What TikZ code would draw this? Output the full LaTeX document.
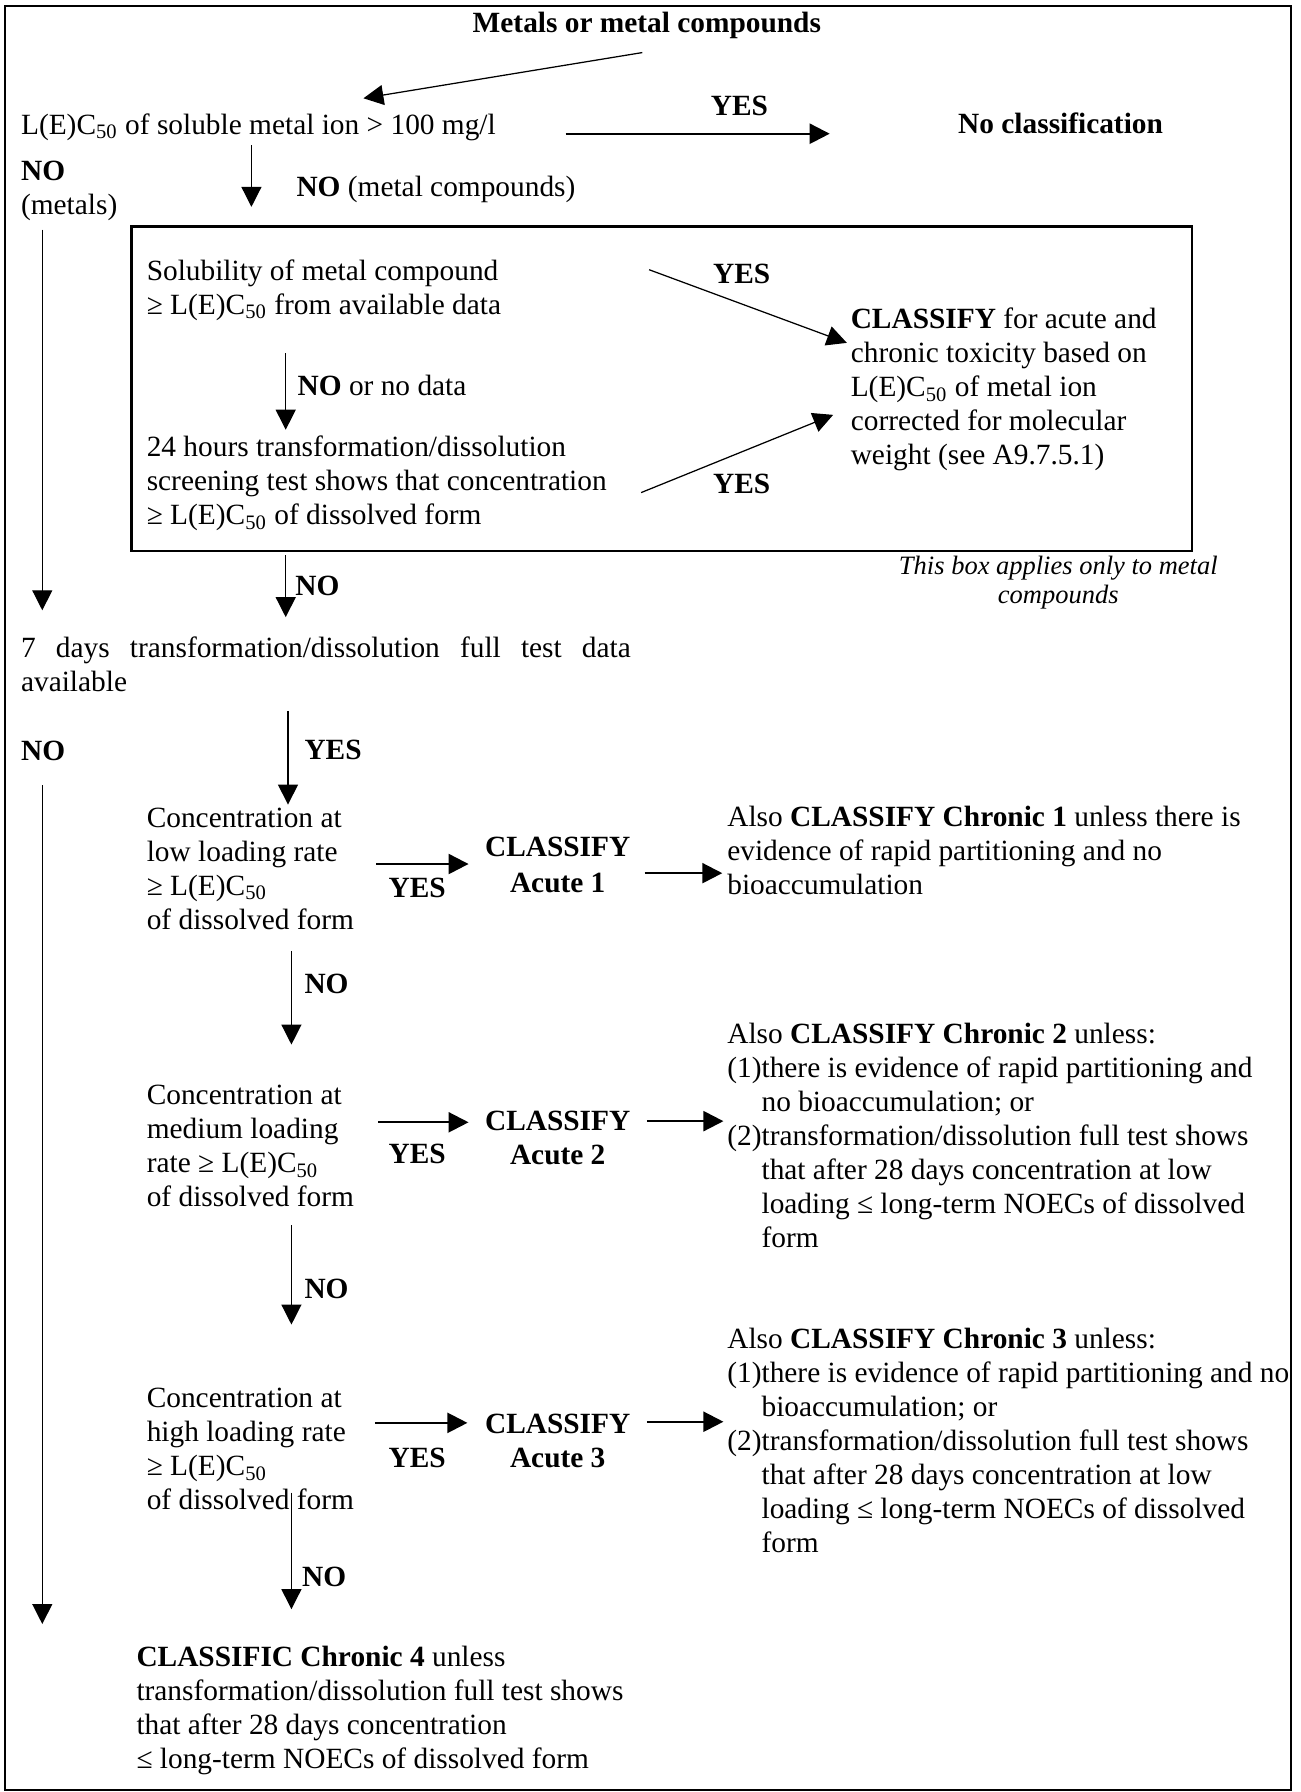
\documentclass[tikz,border=0pt]{standalone}
\usepackage{fontspec}
\setmainfont{Liberation Serif}
\usetikzlibrary{arrows.meta}
\renewcommand\normalsize{\fontsize{11.75}{13.6}\selectfont}

\begin{document}
\begin{tikzpicture}[x=0.4573pt,y=-0.4573pt,
  txt/.style={inner sep=0pt,align=left,anchor=west},
  lab/.style={inner sep=0pt,font=\bfseries},
  arr/.style={-{Triangle[length=8pt,width=8pt]},line width=0.5pt},
  harr/.style={arr,line width=0.9pt}]
\useasboundingbox (0,0) rectangle (1138,1568);
\draw[line width=0.8pt] (4,5) rectangle (1130,1566);
\draw[line width=1pt] (115,198) rectangle (1043,482);

\node[lab] (top) at (566,22) {Metals or metal compounds};
\node[txt] (lec) at (18,111) {L(E)C\textsubscript{50} of soluble metal ion > 100 mg/l};
\node[lab] (nocl) at (928,108) {No classification};
\node[lab] (y1) at (647,93) {YES};
\node[txt] (n1) at (259,166) {\textbf{NO} (metal compounds)};
\node[txt] (n2) at (18,167) {\textbf{NO}\\(metals)};

\node[txt] (sol) at (128,254) {Solubility of metal compound\\≥ L(E)C\textsubscript{50} from available data};
\node[lab] (y2) at (649,240) {YES};
\node[txt] (cls) at (744,341) {\textbf{CLASSIFY} for acute and\\chronic toxicity based on\\L(E)C\textsubscript{50} of metal ion\\corrected for molecular\\weight (see A9.7.5.1)};
\node[txt] (n3) at (260,337) {\textbf{NO} or no data};
\node[txt] (scr) at (128,423) {24 hours transformation/dissolution\\screening test shows that concentration\\≥ L(E)C\textsubscript{50} of dissolved form};
\node[lab] (y3) at (649,423) {YES};
\node[inner sep=0pt,align=center,font=\fontsize{10.6}{11.4}\selectfont\itshape] (note) at (926,510) {This box applies only to metal\\compounds};
\node[txt,font=\bfseries] (n4) at (258,513) {NO};

\node[txt,text width=244pt,align=justify] (seven) at (18,581) {7 days transformation/dissolution full test data\linebreak available};
\node[txt,font=\bfseries] (n5) at (18,657) {NO};
\node[txt,font=\bfseries] (y4) at (266,656) {YES};

\node[txt] (c1) at (128,760) {Concentration at\\low loading rate\\≥ L(E)C\textsubscript{50}\\of dissolved form};
\node[lab] (y5) at (365,777) {YES};
\node[lab,align=center] (ac1) at (488,757) {CLASSIFY\\[1pt]Acute 1};
\node[txt] (ch1) at (636,744) {Also \textbf{CLASSIFY Chronic 1} unless there is\\evidence of rapid partitioning and no\\bioaccumulation};
\node[txt,font=\bfseries] (n6) at (266,861) {NO};

\node[txt] (c2) at (128,1003) {Concentration at\\medium loading\\rate ≥ L(E)C\textsubscript{50}\\of dissolved form};
\node[lab] (y6) at (365,1010) {YES};
\node[lab,align=center] (ac2) at (488,996) {CLASSIFY\\Acute 2};
\node[txt] (ch2) at (636,996) {Also \textbf{CLASSIFY Chronic 2} unless:\\(1)there is evidence of rapid partitioning and\\\phantom{(1)}no bioaccumulation; or\\(2)transformation/dissolution full test shows\\\phantom{(2)}that after 28 days concentration at low\\\phantom{(2)}loading ≤ long-term NOECs of dissolved\\\phantom{(2)}form};
\node[txt,font=\bfseries] (n7) at (266,1128) {NO};

\node[txt] (c3) at (128,1268) {Concentration at\\high loading rate\\≥ L(E)C\textsubscript{50}\\of dissolved form};
\node[lab] (y7) at (365,1276) {YES};
\node[lab,align=center] (ac3) at (488,1261) {CLASSIFY\\Acute 3};
\node[txt] (ch3) at (636,1263) {Also \textbf{CLASSIFY Chronic 3} unless:\\(1)there is evidence of rapid partitioning and no\\\phantom{(1)}bioaccumulation; or\\(2)transformation/dissolution full test shows\\\phantom{(2)}that after 28 days concentration at low\\\phantom{(2)}loading ≤ long-term NOECs of dissolved\\\phantom{(2)}form};
\node[txt,font=\bfseries] (n8) at (264,1380) {NO};

\node[txt] (ch4) at (119,1497) {\textbf{CLASSIFIC Chronic 4} unless\\transformation/dissolution full test shows\\that after 28 days concentration\\≤ long-term NOECs of dissolved form};

\coordinate (p1) at (562,46);   \coordinate (q1) at (318,86);
\coordinate (p2) at (495,117);  \coordinate (q2) at (726,117);
\coordinate (p3) at (220,127);  \coordinate (q3) at (220,181);
\coordinate (p4) at (37,201);   \coordinate (q4) at (37,534);
\coordinate (p5) at (568,236);  \coordinate (q5) at (741,300);
\coordinate (p6) at (250,309);  \coordinate (q6) at (250,376);
\coordinate (p7) at (561,431);  \coordinate (q7) at (729,363);
\coordinate (p8) at (250,486);  \coordinate (q8) at (250,540);
\coordinate (p9) at (37,687);   \coordinate (q9) at (37,1421);
\coordinate (p10) at (252,622); \coordinate (q10) at (252,704);
\coordinate (p11) at (255,832); \coordinate (q11) at (255,914);
\coordinate (p12) at (255,1072); \coordinate (q12) at (255,1159);
\coordinate (p13) at (255,1306); \coordinate (q13) at (255,1408);
\coordinate (r1) at (329,756);  \coordinate (s1) at (410,756);
\coordinate (t1) at (564,764);  \coordinate (u1) at (632,764);
\coordinate (r2) at (331,982);  \coordinate (s2) at (410,982);
\coordinate (t2) at (566,981);  \coordinate (u2) at (633,981);
\coordinate (r3) at (328,1245); \coordinate (s3) at (409,1245);
\coordinate (t3) at (566,1244); \coordinate (u3) at (633,1244);

\draw[arr] (p1) -- (q1);
\draw[harr] (p2) -- (q2);
\draw[arr] (p3) -- (q3);
\draw[arr] (p4) -- (q4);
\draw[arr] (p5) -- (q5);
\draw[arr] (p6) -- (q6);
\draw[arr] (p7) -- (q7);
\draw[arr] (p8) -- (q8);
\draw[arr] (p9) -- (q9);
\draw[arr] (p10) -- (q10);
\draw[arr] (p11) -- (q11);
\draw[arr] (p12) -- (q12);
\draw[arr] (p13) -- (q13);
\draw[harr] (r1) -- (s1);
\draw[harr] (t1) -- (u1);
\draw[harr] (r2) -- (s2);
\draw[harr] (t2) -- (u2);
\draw[harr] (r3) -- (s3);
\draw[harr] (t3) -- (u3);
\end{tikzpicture}
\end{document}
